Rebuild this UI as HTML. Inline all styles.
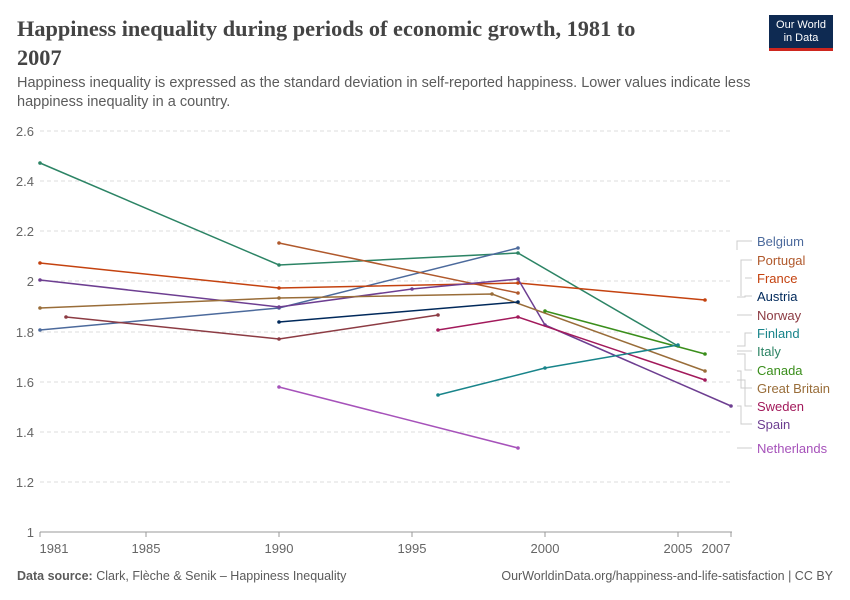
<!DOCTYPE html>
<html><head><meta charset="utf-8"><style>
body{margin:0;background:#fff;width:850px;height:600px;overflow:hidden;font-family:"Liberation Sans",sans-serif;}
.t{position:absolute;left:17px;top:14px;font-family:"Liberation Serif",serif;font-size:22.3px;color:#444;line-height:29px;width:660px;font-weight:bold}
.s{position:absolute;left:17px;top:74px;font-size:14.5px;color:#5b5b5b;line-height:19px;width:760px}
.logo{position:absolute;left:769px;top:15px;width:64px;height:36px;background:#0e2a52;border-bottom:3px solid #ce261e;color:#fff;font-size:11px;text-align:center;line-height:13px;padding-top:4px;box-sizing:border-box}
.f{position:absolute;top:569px;font-size:12.5px;color:#5b5b5b}
</style></head><body>
<div class="t">Happiness inequality during periods of economic growth, 1981 to 2007</div>
<div class="s">Happiness inequality is expressed as the standard deviation in self-reported happiness. Lower values indicate less happiness inequality in a country.</div>
<div class="logo">Our World<br>in Data</div>
<svg width="850" height="600" style="position:absolute;left:0;top:0" font-family="Liberation Sans, sans-serif">
<defs><marker id="m" viewBox="0 0 4 4" refX="2" refY="2" markerWidth="2.4" markerHeight="2.4" markerUnits="strokeWidth"><circle cx="2" cy="2" r="2" fill="context-stroke"/></marker></defs>
<g stroke="#ddd" stroke-dasharray="4,3">
<line x1="40" x2="732" y1="131" y2="131"/><line x1="40" x2="732" y1="181" y2="181"/><line x1="40" x2="732" y1="231" y2="231"/><line x1="40" x2="732" y1="281" y2="281"/><line x1="40" x2="732" y1="332" y2="332"/><line x1="40" x2="732" y1="382" y2="382"/><line x1="40" x2="732" y1="432" y2="432"/><line x1="40" x2="732" y1="482" y2="482"/>
</g>
<line x1="40" x2="732" y1="532" y2="532" stroke="#999"/>
<g stroke="#999"><line x1="40" x2="40" y1="532" y2="537"/><line x1="146" x2="146" y1="532" y2="537"/><line x1="279" x2="279" y1="532" y2="537"/><line x1="412" x2="412" y1="532" y2="537"/><line x1="545" x2="545" y1="532" y2="537"/><line x1="678" x2="678" y1="532" y2="537"/><line x1="731" x2="731" y1="532" y2="537"/></g>
<g fill="#666" font-size="13" text-anchor="end">
<text x="34" y="136">2.6</text><text x="34" y="186">2.4</text><text x="34" y="236">2.2</text><text x="34" y="286">2</text><text x="34" y="337">1.8</text><text x="34" y="387">1.6</text><text x="34" y="437">1.4</text><text x="34" y="487">1.2</text><text x="34" y="537">1</text>
</g>
<g fill="#666" font-size="13" text-anchor="middle">
<text x="54" y="553">1981</text><text x="146" y="553">1985</text><text x="279" y="553">1990</text><text x="412" y="553">1995</text><text x="545" y="553">2000</text><text x="678" y="553">2005</text><text x="716" y="553">2007</text>
</g>
<g fill="none" stroke-width="1.5" marker-start="url(#m)" marker-mid="url(#m)" marker-end="url(#m)">
<polyline stroke="#2c8465" points="40,163 279,265 518,253 678,346"/>
<polyline stroke="#4c6a9c" points="40,330 279,308 518,248"/>
<polyline stroke="#b0592c" points="279,243 518,293"/>
<polyline stroke="#c4420f" points="40,263 279,288 518,283 705,300"/>
<polyline stroke="#6d3e91" points="40,280 279,307 412,289 518,279 545,325 731,406"/>
<polyline stroke="#996d39" points="40,308 279,298 492,294 705,371"/>
<polyline stroke="#8c3b43" points="66,317 279,339 438,315"/>
<polyline stroke="#00295b" points="279,322 518,302"/>
<polyline stroke="#a2195b" points="438,330 518,317 705,380"/>
<polyline stroke="#3a8e1b" points="545,311 705,354"/>
<polyline stroke="#18848a" points="438,395 545,368 678,345"/>
<polyline stroke="#a652ba" points="279,387 518,448"/>
</g>
<g stroke="#ccc" fill="none">
<polyline points="737,250 737,241 752,241"/>
<polyline points="741,296 741,260 752,260"/>
<polyline points="745,278 752,278"/>
<polyline points="737,297 745,297 745,296 752,296"/>
<line x1="737" x2="752" y1="315" y2="315"/>
<polyline points="737,346 745,346 745,333 752,333"/>
<line x1="737" x2="752" y1="351" y2="351"/>
<polyline points="737,354 745,354 745,370 752,370"/>
<polyline points="737,371 741,371 741,388 752,388"/>
<polyline points="737,380 745,380 745,406 752,406"/>
<polyline points="737,406 741,406 741,424 752,424"/>
<line x1="737" x2="752" y1="448" y2="448"/>
</g>
<g font-size="13">
<text x="757" y="246" fill="#4c6a9c">Belgium</text>
<text x="757" y="265" fill="#b0592c">Portugal</text>
<text x="757" y="283" fill="#c4420f">France</text>
<text x="757" y="301" fill="#00295b">Austria</text>
<text x="757" y="320" fill="#8c3b43">Norway</text>
<text x="757" y="338" fill="#18848a">Finland</text>
<text x="757" y="356" fill="#2c8465">Italy</text>
<text x="757" y="375" fill="#3a8e1b">Canada</text>
<text x="757" y="393" fill="#996d39">Great Britain</text>
<text x="757" y="411" fill="#a2195b">Sweden</text>
<text x="757" y="429" fill="#6d3e91">Spain</text>
<text x="757" y="453" fill="#a652ba">Netherlands</text>
</g>
</svg>
<div class="f" style="left:17px"><b>Data source:</b> Clark, Flèche &amp; Senik – Happiness Inequality</div>
<div class="f" style="right:17px">OurWorldinData.org/happiness-and-life-satisfaction | CC BY</div>
</body></html>
